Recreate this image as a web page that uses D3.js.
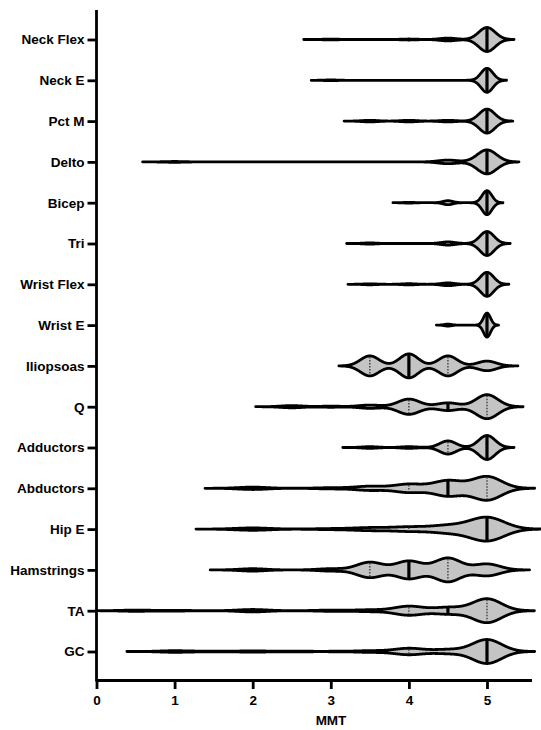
<!DOCTYPE html>
<html>
<head>
<meta charset="utf-8">
<script src="https://cdn.jsdelivr.net/npm/d3@7"></script>
<style>
body{margin:0;background:#fff;}
text{font-family:Arial,"Liberation Sans",Helvetica,sans-serif;font-weight:bold;}
</style>
</head>
<body>
<div id="chart"></div>
<script>
// muscle groups, top to bottom
var muscles = ['Neck Flex','Neck E','Pct M','Delto','Bicep','Tri','Wrist Flex','Wrist E',
    'Iliopsoas','Q','Adductors','Abductors','Hip E','Hamstrings','TA','GC'];

// MMT grades and the (estimated) number of scores at each grade, one row per muscle
var grades = [0,0.5,1,1.5,2,2.5,3,3.5,4,4.5,5];
var neckFlex   = [0,0,0,0,0,0,1,0,1.2,3.5,30];
var neckE      = [0,0,0,0,0,0,1,0,0,0,30];
var pctM       = [0,0,0,0,0,0,0,2,2,2,30];
var delto      = [0,0,1,0,0,0,0,0,0,4.5,30];
var bicep      = [0,0,0,0,0,0,0,0,1,5,30];
var tri        = [0,0,0,0,0,0,0,1.5,0,4,30];
var wristFlex  = [0,0,0,0,0,0,0,1.2,1.5,3.5,30];
var wristE     = [0,0,0,0,0,0,0,0,0,2.5,30];
var iliopsoas  = [0,0,0,0,0,0,0,25,30,25,12];
var quad       = [0,0,0,0,0,2,1,3,14,7,22];
var adductors  = [0,0,0,0,0,0,0,1.5,1.5,12,22];
var abductors  = [0,0,0,0,2,0,1,3.5,7,13,20];
var hipE       = [0,0,0,0,2.5,0,1,3,4.5,7.5,25];
var hamstrings = [0,0,0,0,2,0,2,13,15,20,10];
var ta         = [0,1,0.6,0,2,0,1,1.5,7.5,5.5,20];
var gc         = [0,0,2,1,1.5,1,0.5,2,8,5,30];
var counts = [neckFlex,neckE,pctM,delto,bicep,tri,wristFlex,wristE,
    iliopsoas,quad,adductors,abductors,hipE,hamstrings,ta,gc];

// kernel bandwidth per violin
var bandwidth = [0.105,0.076,0.1,0.124,0.062,0.09,0.085,0.045,0.12,0.14,0.105,0.185,0.22,0.165,0.184,0.185];

// quartiles
var q1     = [5,5,5,5,5,5,5,5,3.5,4,4.5,4,4,3.5,4,4];
var median = [5,5,5,5,5,5,5,5,4,4.5,5,4.5,5,4,4.5,5];
var q3     = [5,5,5,5,5,5,5,5,4.5,5,5,5,5,4.5,5,5];

var xTicks = [0,1,2,3,4,5];

var svgW = 541, svgH = 730;
var halfW = 12;

var svg = d3.select('#chart').append('svg')
    .attr('width', svgW)
    .attr('height', svgH);

var xscale = d3.scaleLinear().domain([0,5.57]).range([96.5,531.5]);
var yscale = d3.scalePoint().domain(muscles).range([39.5,651.5]);

function density(i, v){
    var s = 0;
    counts[i].forEach(function(c, j){
        var d = (v - grades[j]) / bandwidth[i];
        s += c * Math.exp(-0.5 * d * d);
    });
    return s;
}

var violins = svg.append('g');

muscles.forEach(function(m, i){
    var used = grades.filter(function(g, j){ return counts[i][j] > 0; });
    var tail = 3.3 * bandwidth[i];
    var lo = Math.max(0, d3.min(used) - tail);
    var hi = d3.max(used) + tail;
    var pts = d3.range(lo, hi, 0.004).concat([hi]).map(function(v){ return [v, density(i, v)]; });
    var maxD = d3.max(pts, function(p){ return p[1]; });
    var yc = yscale(m);

    var area = d3.area()
        .x(function(p){ return xscale(p[0]); })
        .y0(function(p){ return yc - halfW * p[1] / maxD; })
        .y1(function(p){ return yc + halfW * p[1] / maxD; });

    var g = violins.append('g');
    g.append('path')
        .attr('d', area(pts))
        .attr('fill', '#c4c4c4')
        .attr('stroke', '#000')
        .attr('stroke-width', 2.8)
        .attr('stroke-linejoin', 'round');

    function width(v){ return halfW * density(i, v) / maxD; }

    [q1[i], q3[i]].forEach(function(q){
        if (q == median[i]) return;
        g.append('line')
            .attr('x1', xscale(q)).attr('x2', xscale(q))
            .attr('y1', yc - width(q) + 1).attr('y2', yc + width(q) - 1)
            .attr('stroke', '#333')
            .attr('stroke-width', 1.3)
            .attr('stroke-dasharray', '1.5,1.5');
    });
    g.append('line')
        .attr('x1', xscale(median[i])).attr('x2', xscale(median[i]))
        .attr('y1', yc - width(median[i])).attr('y2', yc + width(median[i]))
        .attr('stroke', '#000')
        .attr('stroke-width', 3.2);
});

// axes
var xAxis = svg.append('g')
    .attr('transform', 'translate(0,680)')
    .call(d3.axisBottom(xscale).tickValues(xTicks).tickFormat(d3.format('d'))
        .tickSize(9).tickPadding(6).tickSizeOuter(0));
xAxis.attr('font-family', null).attr('font-size', null);
xAxis.select('.domain').attr('stroke-width', 2.8);
xAxis.selectAll('.tick line').attr('stroke-width', 2.8);
xAxis.selectAll('.tick text').style('font-size', '13.5px').attr('fill', '#000');

var yAxis = svg.append('g')
    .attr('transform', 'translate(96.5,0)')
    .call(d3.axisLeft(yscale).tickSize(9).tickPadding(3).tickSizeOuter(0));
yAxis.attr('font-family', null).attr('font-size', null);
yAxis.select('.domain').remove();
yAxis.selectAll('.tick line').attr('stroke-width', 2.8);
yAxis.selectAll('.tick text').style('font-size', '13.5px').attr('fill', '#000');
yAxis.append('line')
    .attr('x1', 0).attr('x2', 0)
    .attr('y1', 10).attr('y2', 681.4)
    .attr('stroke', '#000')
    .attr('stroke-width', 2.8);

svg.append('text')
    .attr('x', 331)
    .attr('y', 725)
    .attr('text-anchor', 'middle')
    .style('font-size', '13.5px')
    .text('MMT');
</script>
</body>
</html>
